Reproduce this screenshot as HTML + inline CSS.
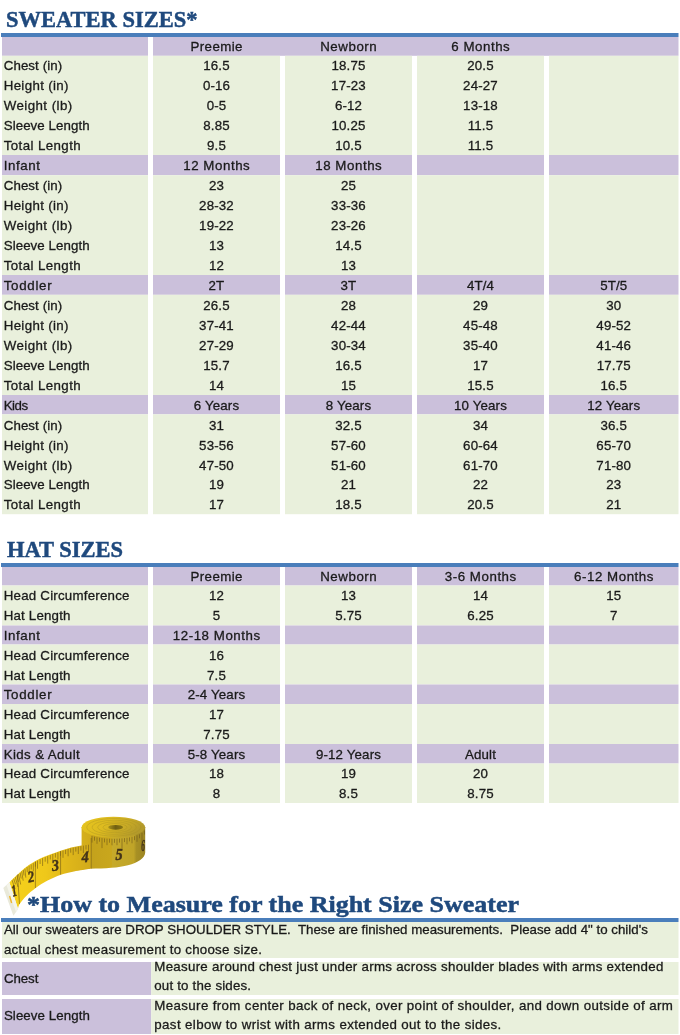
<!DOCTYPE html>
<html><head><meta charset="utf-8"><title>Size Chart</title>
<style>
html,body{margin:0;padding:0;background:#fff}
body{width:680px;height:1035px;position:relative;overflow:hidden;font-family:"Liberation Sans",sans-serif}
.r{position:absolute}
.t{position:absolute;font-size:13.3px;line-height:16px;color:#1a1a1a;white-space:nowrap;letter-spacing:0.15px;-webkit-text-stroke:0.3px #1a1a1a}
.c{text-align:center}
.h1{position:absolute;font-family:"Liberation Serif",serif;font-weight:bold;font-size:24px;line-height:30px;color:#1f497d;white-space:nowrap;transform-origin:0 0;-webkit-text-stroke:0.5px #1f497d}
svg{position:absolute;left:0;top:0}
#txt{position:absolute;left:0;top:0;width:680px;height:1035px;will-change:transform;filter:blur(0.35px)}
</style></head><body>
<svg width="680" height="1035" viewBox="0 0 680 1035" style="position:absolute;left:0;top:0">
<rect class="r" x="1" y="33" width="677.5" height="4" fill="#4a7ebb"/>
<rect class="r" x="2" y="37" width="146" height="18.8" fill="#cbc0db"/>
<rect class="r" x="153" y="37" width="525.5" height="18.8" fill="#cbc0db"/>
<rect class="r" x="2" y="55.8" width="146" height="99.2" fill="#e9f0dc"/>
<rect class="r" x="153" y="55.8" width="127" height="99.2" fill="#e9f0dc"/>
<rect class="r" x="285" y="55.8" width="127" height="99.2" fill="#e9f0dc"/>
<rect class="r" x="417" y="55.8" width="127" height="99.2" fill="#e9f0dc"/>
<rect class="r" x="549" y="55.8" width="129.5" height="99.2" fill="#e9f0dc"/>
<rect class="r" x="2" y="155" width="146" height="20.2" fill="#cbc0db"/>
<rect class="r" x="153" y="155" width="127" height="20.2" fill="#cbc0db"/>
<rect class="r" x="285" y="155" width="127" height="20.2" fill="#cbc0db"/>
<rect class="r" x="417" y="155" width="127" height="20.2" fill="#cbc0db"/>
<rect class="r" x="549" y="155" width="129.5" height="20.2" fill="#cbc0db"/>
<rect class="r" x="2" y="175.2" width="146" height="99.8" fill="#e9f0dc"/>
<rect class="r" x="153" y="175.2" width="127" height="99.8" fill="#e9f0dc"/>
<rect class="r" x="285" y="175.2" width="127" height="99.8" fill="#e9f0dc"/>
<rect class="r" x="417" y="175.2" width="127" height="99.8" fill="#e9f0dc"/>
<rect class="r" x="549" y="175.2" width="129.5" height="99.8" fill="#e9f0dc"/>
<rect class="r" x="2" y="275" width="146" height="19.8" fill="#cbc0db"/>
<rect class="r" x="153" y="275" width="127" height="19.8" fill="#cbc0db"/>
<rect class="r" x="285" y="275" width="127" height="19.8" fill="#cbc0db"/>
<rect class="r" x="417" y="275" width="127" height="19.8" fill="#cbc0db"/>
<rect class="r" x="549" y="275" width="129.5" height="19.8" fill="#cbc0db"/>
<rect class="r" x="2" y="294.8" width="146" height="100.2" fill="#e9f0dc"/>
<rect class="r" x="153" y="294.8" width="127" height="100.2" fill="#e9f0dc"/>
<rect class="r" x="285" y="294.8" width="127" height="100.2" fill="#e9f0dc"/>
<rect class="r" x="417" y="294.8" width="127" height="100.2" fill="#e9f0dc"/>
<rect class="r" x="549" y="294.8" width="129.5" height="100.2" fill="#e9f0dc"/>
<rect class="r" x="2" y="395" width="146" height="19.3" fill="#cbc0db"/>
<rect class="r" x="153" y="395" width="127" height="19.3" fill="#cbc0db"/>
<rect class="r" x="285" y="395" width="127" height="19.3" fill="#cbc0db"/>
<rect class="r" x="417" y="395" width="127" height="19.3" fill="#cbc0db"/>
<rect class="r" x="549" y="395" width="129.5" height="19.3" fill="#cbc0db"/>
<rect class="r" x="2" y="414.3" width="146" height="99.9" fill="#e9f0dc"/>
<rect class="r" x="153" y="414.3" width="127" height="99.9" fill="#e9f0dc"/>
<rect class="r" x="285" y="414.3" width="127" height="99.9" fill="#e9f0dc"/>
<rect class="r" x="417" y="414.3" width="127" height="99.9" fill="#e9f0dc"/>
<rect class="r" x="549" y="414.3" width="129.5" height="99.9" fill="#e9f0dc"/>
<rect class="r" x="1" y="563" width="677.5" height="4" fill="#4a7ebb"/>
<rect class="r" x="2" y="567" width="146" height="18.5" fill="#cbc0db"/>
<rect class="r" x="153" y="567" width="127" height="18.5" fill="#cbc0db"/>
<rect class="r" x="285" y="567" width="127" height="18.5" fill="#cbc0db"/>
<rect class="r" x="417" y="567" width="127" height="18.5" fill="#cbc0db"/>
<rect class="r" x="549" y="567" width="129.5" height="18.5" fill="#cbc0db"/>
<rect class="r" x="2" y="585.5" width="146" height="40.0" fill="#e9f0dc"/>
<rect class="r" x="153" y="585.5" width="127" height="40.0" fill="#e9f0dc"/>
<rect class="r" x="285" y="585.5" width="127" height="40.0" fill="#e9f0dc"/>
<rect class="r" x="417" y="585.5" width="127" height="40.0" fill="#e9f0dc"/>
<rect class="r" x="549" y="585.5" width="129.5" height="40.0" fill="#e9f0dc"/>
<rect class="r" x="2" y="625.5" width="146" height="19.0" fill="#cbc0db"/>
<rect class="r" x="153" y="625.5" width="127" height="19.0" fill="#cbc0db"/>
<rect class="r" x="285" y="625.5" width="127" height="19.0" fill="#cbc0db"/>
<rect class="r" x="417" y="625.5" width="127" height="19.0" fill="#cbc0db"/>
<rect class="r" x="549" y="625.5" width="129.5" height="19.0" fill="#cbc0db"/>
<rect class="r" x="2" y="644.5" width="146" height="40.0" fill="#e9f0dc"/>
<rect class="r" x="153" y="644.5" width="127" height="40.0" fill="#e9f0dc"/>
<rect class="r" x="285" y="644.5" width="127" height="40.0" fill="#e9f0dc"/>
<rect class="r" x="417" y="644.5" width="127" height="40.0" fill="#e9f0dc"/>
<rect class="r" x="549" y="644.5" width="129.5" height="40.0" fill="#e9f0dc"/>
<rect class="r" x="2" y="684.5" width="146" height="19.5" fill="#cbc0db"/>
<rect class="r" x="153" y="684.5" width="127" height="19.5" fill="#cbc0db"/>
<rect class="r" x="285" y="684.5" width="127" height="19.5" fill="#cbc0db"/>
<rect class="r" x="417" y="684.5" width="127" height="19.5" fill="#cbc0db"/>
<rect class="r" x="549" y="684.5" width="129.5" height="19.5" fill="#cbc0db"/>
<rect class="r" x="2" y="704" width="146" height="40" fill="#e9f0dc"/>
<rect class="r" x="153" y="704" width="127" height="40" fill="#e9f0dc"/>
<rect class="r" x="285" y="704" width="127" height="40" fill="#e9f0dc"/>
<rect class="r" x="417" y="704" width="127" height="40" fill="#e9f0dc"/>
<rect class="r" x="549" y="704" width="129.5" height="40" fill="#e9f0dc"/>
<rect class="r" x="2" y="744" width="146" height="19.5" fill="#cbc0db"/>
<rect class="r" x="153" y="744" width="127" height="19.5" fill="#cbc0db"/>
<rect class="r" x="285" y="744" width="127" height="19.5" fill="#cbc0db"/>
<rect class="r" x="417" y="744" width="127" height="19.5" fill="#cbc0db"/>
<rect class="r" x="549" y="744" width="129.5" height="19.5" fill="#cbc0db"/>
<rect class="r" x="2" y="763.5" width="146" height="39.5" fill="#e9f0dc"/>
<rect class="r" x="153" y="763.5" width="127" height="39.5" fill="#e9f0dc"/>
<rect class="r" x="285" y="763.5" width="127" height="39.5" fill="#e9f0dc"/>
<rect class="r" x="417" y="763.5" width="127" height="39.5" fill="#e9f0dc"/>
<rect class="r" x="549" y="763.5" width="129.5" height="39.5" fill="#e9f0dc"/>
<rect class="r" x="1" y="918" width="677.5" height="4" fill="#4a7ebb"/>
<rect class="r" x="2" y="922" width="676.5" height="36" fill="#e9f0dc"/>
<rect class="r" x="2" y="962" width="149.2" height="33" fill="#cbc0db"/>
<rect class="r" x="151.2" y="962" width="527.3" height="33" fill="#e9f0dc"/>
<rect class="r" x="2" y="999" width="149.2" height="35" fill="#cbc0db"/>
<rect class="r" x="151.2" y="999" width="527.3" height="35" fill="#e9f0dc"/>
</svg>
<svg width="170" height="125" viewBox="0 805 170 125" style="position:absolute;left:0;top:805px;will-change:transform">
<defs>
<linearGradient id="gs" x1="0" y1="0" x2="1" y2="0"><stop offset="0" stop-color="#f6d21c"/><stop offset="0.45" stop-color="#efc81a"/><stop offset="0.7" stop-color="#e0b81a"/><stop offset="1" stop-color="#d2ab1a"/></linearGradient>
<linearGradient id="gc" x1="0" y1="0" x2="1" y2="0"><stop offset="0" stop-color="#d6b01b"/><stop offset="0.15" stop-color="#d0aa1a"/><stop offset="0.16" stop-color="#c4a21c"/><stop offset="0.47" stop-color="#c9a71d"/><stop offset="0.48" stop-color="#c6aa2a"/><stop offset="0.82" stop-color="#c0a428"/><stop offset="0.86" stop-color="#a89024"/><stop offset="1" stop-color="#9c8522"/></linearGradient>
<linearGradient id="gt" x1="0" y1="0" x2="1" y2="0.3"><stop offset="0" stop-color="#e8c61e"/><stop offset="0.45" stop-color="#ddbb20"/><stop offset="0.75" stop-color="#c9ab26"/><stop offset="1" stop-color="#b39a2b"/></linearGradient>
<linearGradient id="gh" x1="0" y1="0" x2="1" y2="0"><stop offset="0" stop-color="#a8921c"/><stop offset="0.5" stop-color="#6f5f12"/><stop offset="1" stop-color="#8a7716"/></linearGradient>
</defs>
<path d="M81.6,827 L81.6,869.5 L90,868.7 C105,868.6 119,867.8 128,865.3 C138,862.5 145,858 145.2,852.5 L145.2,827 Z" fill="url(#gc)"/>
<path d="M90,844.0 C89.5,844.0 90.8,843.6 87.3,844.3 C83.8,845.0 74.5,846.7 68.8,848.2 C63.1,849.7 57.8,851.7 52.9,853.5 C48.0,855.3 44.1,856.6 39.7,858.8 C35.3,861.0 30.5,863.8 26.5,866.7 C22.5,869.6 18.8,873.4 15.9,876 C13.0,878.6 10.4,881.4 9.3,882.5 L17.9,909 C18.2,908.1 18.4,906.0 19.8,903.8 C21.2,901.6 23.9,898.4 26.5,895.8 C29.1,893.2 32.2,890.5 35.7,888 C39.2,885.5 43.4,882.8 47.6,880.6 C51.8,878.4 56.4,876.2 60.8,874.7 C65.2,873.2 69.1,872.4 74,871.4 C78.9,870.4 87.3,869.2 90,868.7 Z" fill="url(#gs)"/>
<path d="M3.3,888 L9.3,882.3 L18.1,909 L13.4,915.8 Z" fill="#e9e9da"/>
<path d="M6.5,885.3 L9.3,882.3 L18.1,909 L16,912 Z" fill="#f4f4ea"/>
<path d="M9.6,896 L11.6,903" stroke="#f0b429" stroke-width="1.4" fill="none"/>
<ellipse cx="113.4" cy="827.3" rx="31.8" ry="10.6" fill="url(#gt)"/>
<g fill="none" stroke="#a89022" stroke-width="0.7" opacity="0.55">
<ellipse cx="113.8" cy="827.3" rx="27" ry="8.8"/><ellipse cx="114.2" cy="827.3" rx="22" ry="7.1"/><ellipse cx="114.6" cy="827.3" rx="17" ry="5.4"/><ellipse cx="115" cy="827.3" rx="12" ry="3.8"/>
</g>
<ellipse cx="115.6" cy="827.3" rx="7.4" ry="2.4" fill="url(#gh)"/>
<g stroke="#6b5318" stroke-width="0.7" opacity="0.8">
<line x1="88.5" y1="844.7" x2="88.5" y2="852.1"/><line x1="86.0" y1="845.1" x2="86.0" y2="849.5"/><line x1="83.4" y1="845.6" x2="83.4" y2="853.0"/><line x1="80.9" y1="846.2" x2="80.9" y2="850.6"/><line x1="78.3" y1="846.7" x2="78.3" y2="854.0"/><line x1="75.8" y1="847.2" x2="75.8" y2="851.6"/><line x1="73.2" y1="847.8" x2="73.2" y2="855.1"/><line x1="70.7" y1="848.3" x2="70.7" y2="852.7"/><line x1="68.1" y1="848.9" x2="68.1" y2="856.3"/><line x1="65.6" y1="849.8" x2="65.6" y2="854.1"/><line x1="63.0" y1="850.6" x2="63.0" y2="857.8"/><line x1="60.5" y1="851.5" x2="60.5" y2="855.8"/><line x1="57.9" y1="852.3" x2="57.9" y2="859.6"/><line x1="55.4" y1="853.2" x2="55.4" y2="857.6"/><line x1="52.8" y1="854.0" x2="52.8" y2="861.5"/><line x1="50.3" y1="855.1" x2="50.3" y2="859.5"/><line x1="47.7" y1="856.1" x2="47.7" y2="863.6"/><line x1="45.2" y1="857.1" x2="45.2" y2="861.7"/><line x1="42.6" y1="858.1" x2="42.6" y2="866.0"/><line x1="40.1" y1="859.2" x2="40.1" y2="864.0"/><line x1="37.5" y1="860.6" x2="37.5" y2="868.7"/><line x1="35.4" y1="861.9" x2="35.4" y2="866.7"/><line x1="33.3" y1="863.1" x2="33.3" y2="871.4"/><line x1="31.2" y1="864.4" x2="31.2" y2="869.5"/><line x1="29.1" y1="865.6" x2="29.2" y2="874.2"/><line x1="27.0" y1="866.9" x2="27.3" y2="872.2"/><line x1="24.9" y1="868.6" x2="25.8" y2="877.6"/><line x1="23.3" y1="870.0" x2="24.0" y2="875.5"/><line x1="21.7" y1="871.4" x2="23.2" y2="880.7"/><line x1="20.1" y1="872.8" x2="21.2" y2="878.5"/><line x1="18.5" y1="874.2" x2="20.7" y2="884.5"/><line x1="16.9" y1="875.6" x2="18.5" y2="881.9"/><line x1="15.3" y1="877.1" x2="18.0" y2="887.0"/><line x1="13.7" y1="878.7" x2="15.5" y2="884.3"/><line x1="12.1" y1="880.2" x2="15.1" y2="889.1"/>
<line x1="92.0" y1="836.1" x2="92.0" y2="842.6"/><line x1="94.5" y1="836.7" x2="94.5" y2="840.7"/><line x1="97.0" y1="837.3" x2="97.0" y2="843.8"/><line x1="99.5" y1="837.7" x2="99.5" y2="841.7"/><line x1="102.0" y1="838.1" x2="102.0" y2="848.1"/><line x1="104.5" y1="838.4" x2="104.5" y2="842.4"/><line x1="107.0" y1="838.6" x2="107.0" y2="845.1"/><line x1="109.5" y1="838.7" x2="109.5" y2="842.7"/><line x1="112.0" y1="838.8" x2="112.0" y2="845.3"/><line x1="114.5" y1="838.8" x2="114.5" y2="842.8"/><line x1="117.0" y1="838.7" x2="117.0" y2="845.2"/><line x1="119.5" y1="838.6" x2="119.5" y2="842.6"/><line x1="122.0" y1="838.4" x2="122.0" y2="848.4"/><line x1="124.5" y1="838.1" x2="124.5" y2="842.1"/><line x1="127.0" y1="837.8" x2="127.0" y2="844.3"/><line x1="129.5" y1="837.4" x2="129.5" y2="841.4"/><line x1="132.0" y1="836.8" x2="132.0" y2="843.3"/><line x1="134.5" y1="836.2" x2="134.5" y2="840.2"/><line x1="137.0" y1="835.3" x2="137.0" y2="841.8"/><line x1="139.5" y1="834.3" x2="139.5" y2="838.3"/><line x1="142.0" y1="832.9" x2="142.0" y2="842.9"/><line x1="144.5" y1="830.5" x2="144.5" y2="834.5"/>
<line x1="35.4" y1="861.5" x2="35.4" y2="888"/>
<line x1="60.6" y1="851" x2="60.6" y2="874.7"/>
<line x1="91.2" y1="838" x2="91.2" y2="868.6"/>
<line x1="17.5" y1="874.5" x2="19.5" y2="904"/>
</g>
<g font-family="Liberation Serif, serif" font-weight="bold" font-style="italic" font-size="16" fill="#43331a" stroke="#43331a" stroke-width="0.45" text-anchor="middle">
<text transform="translate(15.4,896) rotate(-14) scale(0.62,1)">1</text>
<text transform="translate(31.9,882) rotate(-10) scale(0.8,1)">2</text>
<text transform="translate(55.8,870.6) rotate(-6) scale(0.9,1)">3</text>
<text transform="translate(85.4,862) rotate(-2) scale(0.9,1)">4</text>
<text transform="translate(119.2,859.6) scale(0.9,1)">5</text>
<text transform="translate(143,850.5) scale(0.45,1)">6</text>
</g>
</svg>
<div id="txt">
<div class="t c" style="left:116.7px;top:38.5px;width:200px;letter-spacing:0.4px">Preemie</div>
<div class="t c" style="left:248.775px;top:38.5px;width:200px;letter-spacing:0.55px">Newborn</div>
<div class="t c" style="left:380.775px;top:38.5px;width:200px;letter-spacing:0.55px">6 Months</div>
<div class="t" style="left:3.7px;top:57.5px;letter-spacing:0.095px">Chest (in)</div>
<div class="t c" style="left:116.5px;top:57.5px;width:200px">16.5</div>
<div class="t c" style="left:248.5px;top:57.5px;width:200px">18.75</div>
<div class="t c" style="left:380.5px;top:57.5px;width:200px">20.5</div>
<div class="t" style="left:3.7px;top:77.5px;letter-spacing:0.341px">Height (in)</div>
<div class="t c" style="left:116.5px;top:77.5px;width:200px">0-16</div>
<div class="t c" style="left:248.5px;top:77.5px;width:200px">17-23</div>
<div class="t c" style="left:380.5px;top:77.5px;width:200px">24-27</div>
<div class="t" style="left:3.7px;top:97.5px;letter-spacing:0.445px">Weight (lb)</div>
<div class="t c" style="left:116.5px;top:97.5px;width:200px">0-5</div>
<div class="t c" style="left:248.5px;top:97.5px;width:200px">6-12</div>
<div class="t c" style="left:380.5px;top:97.5px;width:200px">13-18</div>
<div class="t" style="left:3.7px;top:117.5px;letter-spacing:0.081px">Sleeve Length</div>
<div class="t c" style="left:116.5px;top:117.5px;width:200px">8.85</div>
<div class="t c" style="left:248.5px;top:117.5px;width:200px">10.25</div>
<div class="t c" style="left:380.5px;top:117.5px;width:200px">11.5</div>
<div class="t" style="left:3.7px;top:137.5px;letter-spacing:0.413px">Total Length</div>
<div class="t c" style="left:116.5px;top:137.5px;width:200px">9.5</div>
<div class="t c" style="left:248.5px;top:137.5px;width:200px">10.5</div>
<div class="t c" style="left:380.5px;top:137.5px;width:200px">11.5</div>
<div class="t" style="left:3.7px;top:157.5px;letter-spacing:0.604px">Infant</div>
<div class="t c" style="left:116.775px;top:157.5px;width:200px;letter-spacing:0.55px">12 Months</div>
<div class="t c" style="left:248.775px;top:157.5px;width:200px;letter-spacing:0.55px">18 Months</div>
<div class="t" style="left:3.7px;top:177.5px;letter-spacing:0.095px">Chest (in)</div>
<div class="t c" style="left:116.5px;top:177.5px;width:200px">23</div>
<div class="t c" style="left:248.5px;top:177.5px;width:200px">25</div>
<div class="t" style="left:3.7px;top:197.5px;letter-spacing:0.341px">Height (in)</div>
<div class="t c" style="left:116.5px;top:197.5px;width:200px">28-32</div>
<div class="t c" style="left:248.5px;top:197.5px;width:200px">33-36</div>
<div class="t" style="left:3.7px;top:217.5px;letter-spacing:0.445px">Weight (lb)</div>
<div class="t c" style="left:116.5px;top:217.5px;width:200px">19-22</div>
<div class="t c" style="left:248.5px;top:217.5px;width:200px">23-26</div>
<div class="t" style="left:3.7px;top:237.5px;letter-spacing:0.081px">Sleeve Length</div>
<div class="t c" style="left:116.5px;top:237.5px;width:200px">13</div>
<div class="t c" style="left:248.5px;top:237.5px;width:200px">14.5</div>
<div class="t" style="left:3.7px;top:257.5px;letter-spacing:0.413px">Total Length</div>
<div class="t c" style="left:116.5px;top:257.5px;width:200px">12</div>
<div class="t c" style="left:248.5px;top:257.5px;width:200px">13</div>
<div class="t" style="left:3.7px;top:277.5px;letter-spacing:0.729px">Toddler</div>
<div class="t c" style="left:116.5px;top:277.5px;width:200px">2T</div>
<div class="t c" style="left:248.5px;top:277.5px;width:200px">3T</div>
<div class="t c" style="left:380.5px;top:277.5px;width:200px">4T/4</div>
<div class="t c" style="left:513.75px;top:277.5px;width:200px">5T/5</div>
<div class="t" style="left:3.7px;top:297.5px;letter-spacing:0.095px">Chest (in)</div>
<div class="t c" style="left:116.5px;top:297.5px;width:200px">26.5</div>
<div class="t c" style="left:248.5px;top:297.5px;width:200px">28</div>
<div class="t c" style="left:380.5px;top:297.5px;width:200px">29</div>
<div class="t c" style="left:513.75px;top:297.5px;width:200px">30</div>
<div class="t" style="left:3.7px;top:317.5px;letter-spacing:0.341px">Height (in)</div>
<div class="t c" style="left:116.5px;top:317.5px;width:200px">37-41</div>
<div class="t c" style="left:248.5px;top:317.5px;width:200px">42-44</div>
<div class="t c" style="left:380.5px;top:317.5px;width:200px">45-48</div>
<div class="t c" style="left:513.75px;top:317.5px;width:200px">49-52</div>
<div class="t" style="left:3.7px;top:337.5px;letter-spacing:0.445px">Weight (lb)</div>
<div class="t c" style="left:116.5px;top:337.5px;width:200px">27-29</div>
<div class="t c" style="left:248.5px;top:337.5px;width:200px">30-34</div>
<div class="t c" style="left:380.5px;top:337.5px;width:200px">35-40</div>
<div class="t c" style="left:513.75px;top:337.5px;width:200px">41-46</div>
<div class="t" style="left:3.7px;top:357.5px;letter-spacing:0.081px">Sleeve Length</div>
<div class="t c" style="left:116.5px;top:357.5px;width:200px">15.7</div>
<div class="t c" style="left:248.5px;top:357.5px;width:200px">16.5</div>
<div class="t c" style="left:380.5px;top:357.5px;width:200px">17</div>
<div class="t c" style="left:513.75px;top:357.5px;width:200px">17.75</div>
<div class="t" style="left:3.7px;top:377.5px;letter-spacing:0.413px">Total Length</div>
<div class="t c" style="left:116.5px;top:377.5px;width:200px">14</div>
<div class="t c" style="left:248.5px;top:377.5px;width:200px">15</div>
<div class="t c" style="left:380.5px;top:377.5px;width:200px">15.5</div>
<div class="t c" style="left:513.75px;top:377.5px;width:200px">16.5</div>
<div class="t" style="left:3.7px;top:397.5px;letter-spacing:-0.458px">Kids</div>
<div class="t c" style="left:116.5px;top:397.5px;width:200px">6 Years</div>
<div class="t c" style="left:248.5px;top:397.5px;width:200px">8 Years</div>
<div class="t c" style="left:380.5px;top:397.5px;width:200px">10 Years</div>
<div class="t c" style="left:513.75px;top:397.5px;width:200px">12 Years</div>
<div class="t" style="left:3.7px;top:417.5px;letter-spacing:0.095px">Chest (in)</div>
<div class="t c" style="left:116.5px;top:417.5px;width:200px">31</div>
<div class="t c" style="left:248.5px;top:417.5px;width:200px">32.5</div>
<div class="t c" style="left:380.5px;top:417.5px;width:200px">34</div>
<div class="t c" style="left:513.75px;top:417.5px;width:200px">36.5</div>
<div class="t" style="left:3.7px;top:437.5px;letter-spacing:0.341px">Height (in)</div>
<div class="t c" style="left:116.5px;top:437.5px;width:200px">53-56</div>
<div class="t c" style="left:248.5px;top:437.5px;width:200px">57-60</div>
<div class="t c" style="left:380.5px;top:437.5px;width:200px">60-64</div>
<div class="t c" style="left:513.75px;top:437.5px;width:200px">65-70</div>
<div class="t" style="left:3.7px;top:457.5px;letter-spacing:0.445px">Weight (lb)</div>
<div class="t c" style="left:116.5px;top:457.5px;width:200px">47-50</div>
<div class="t c" style="left:248.5px;top:457.5px;width:200px">51-60</div>
<div class="t c" style="left:380.5px;top:457.5px;width:200px">61-70</div>
<div class="t c" style="left:513.75px;top:457.5px;width:200px">71-80</div>
<div class="t" style="left:3.7px;top:476.5px;letter-spacing:0.081px">Sleeve Length</div>
<div class="t c" style="left:116.5px;top:476.5px;width:200px">19</div>
<div class="t c" style="left:248.5px;top:476.5px;width:200px">21</div>
<div class="t c" style="left:380.5px;top:476.5px;width:200px">22</div>
<div class="t c" style="left:513.75px;top:476.5px;width:200px">23</div>
<div class="t" style="left:3.7px;top:496.5px;letter-spacing:0.413px">Total Length</div>
<div class="t c" style="left:116.5px;top:496.5px;width:200px">17</div>
<div class="t c" style="left:248.5px;top:496.5px;width:200px">18.5</div>
<div class="t c" style="left:380.5px;top:496.5px;width:200px">20.5</div>
<div class="t c" style="left:513.75px;top:496.5px;width:200px">21</div>
<div class="t c" style="left:116.7px;top:568.5px;width:200px;letter-spacing:0.4px">Preemie</div>
<div class="t c" style="left:248.775px;top:568.5px;width:200px;letter-spacing:0.55px">Newborn</div>
<div class="t c" style="left:380.775px;top:568.5px;width:200px;letter-spacing:0.55px">3-6 Months</div>
<div class="t c" style="left:514.025px;top:568.5px;width:200px;letter-spacing:0.55px">6-12 Months</div>
<div class="t" style="left:3.7px;top:587.5px;letter-spacing:0.226px">Head Circumference</div>
<div class="t c" style="left:116.5px;top:587.5px;width:200px">12</div>
<div class="t c" style="left:248.5px;top:587.5px;width:200px">13</div>
<div class="t c" style="left:380.5px;top:587.5px;width:200px">14</div>
<div class="t c" style="left:513.75px;top:587.5px;width:200px">15</div>
<div class="t" style="left:3.7px;top:607.5px;letter-spacing:0.193px">Hat Length</div>
<div class="t c" style="left:116.5px;top:607.5px;width:200px">5</div>
<div class="t c" style="left:248.5px;top:607.5px;width:200px">5.75</div>
<div class="t c" style="left:380.5px;top:607.5px;width:200px">6.25</div>
<div class="t c" style="left:513.75px;top:607.5px;width:200px">7</div>
<div class="t" style="left:3.7px;top:627.5px;letter-spacing:0.604px">Infant</div>
<div class="t c" style="left:116.775px;top:627.5px;width:200px;letter-spacing:0.55px">12-18 Months</div>
<div class="t" style="left:3.7px;top:647.5px;letter-spacing:0.226px">Head Circumference</div>
<div class="t c" style="left:116.5px;top:647.5px;width:200px">16</div>
<div class="t" style="left:3.7px;top:667.5px;letter-spacing:0.193px">Hat Length</div>
<div class="t c" style="left:116.5px;top:667.5px;width:200px">7.5</div>
<div class="t" style="left:3.7px;top:686.5px;letter-spacing:0.729px">Toddler</div>
<div class="t c" style="left:116.5px;top:686.5px;width:200px">2-4 Years</div>
<div class="t" style="left:3.7px;top:706.5px;letter-spacing:0.226px">Head Circumference</div>
<div class="t c" style="left:116.5px;top:706.5px;width:200px">17</div>
<div class="t" style="left:3.7px;top:726.5px;letter-spacing:0.193px">Hat Length</div>
<div class="t c" style="left:116.5px;top:726.5px;width:200px">7.75</div>
<div class="t" style="left:3.7px;top:746.5px;letter-spacing:0.391px">Kids &amp; Adult</div>
<div class="t c" style="left:116.5px;top:746.5px;width:200px">5-8 Years</div>
<div class="t c" style="left:248.5px;top:746.5px;width:200px">9-12 Years</div>
<div class="t c" style="left:380.5px;top:746.5px;width:200px">Adult</div>
<div class="t" style="left:3.7px;top:765.5px;letter-spacing:0.226px">Head Circumference</div>
<div class="t c" style="left:116.5px;top:765.5px;width:200px">18</div>
<div class="t c" style="left:248.5px;top:765.5px;width:200px">19</div>
<div class="t c" style="left:380.5px;top:765.5px;width:200px">20</div>
<div class="t" style="left:3.7px;top:785.5px;letter-spacing:0.193px">Hat Length</div>
<div class="t c" style="left:116.5px;top:785.5px;width:200px">8</div>
<div class="t c" style="left:248.5px;top:785.5px;width:200px">8.5</div>
<div class="t c" style="left:380.5px;top:785.5px;width:200px">8.75</div>
<div class="t" style="left:3.9px;top:921.5px;letter-spacing:0.009px">All our sweaters are DROP SHOULDER STYLE.&nbsp; These are finished measurements.&nbsp; Please add 4" to child's</div>
<div class="t" style="left:3.9px;top:941.5px;letter-spacing:0.248px">actual chest measurement to choose size.</div>
<div class="t" style="left:3.9px;top:970.5px;letter-spacing:-0.062px">Chest</div>
<div class="t" style="left:3.9px;top:1007.5px;letter-spacing:0.081px">Sleeve Length</div>
<div class="t" style="left:154.3px;top:958.5px;letter-spacing:0.285px">Measure around chest just under arms across shoulder blades with arms extended</div>
<div class="t" style="left:154.3px;top:977.5px;letter-spacing:0.179px">out to the sides.</div>
<div class="t" style="left:154.3px;top:997.5px;letter-spacing:0.374px">Measure from center back of neck, over point of shoulder, and down outside of arm</div>
<div class="t" style="left:154.3px;top:1016.5px;letter-spacing:0.383px">past elbow to wrist with arms extended out to the sides.</div>
<div class="h1" style="left:5.5px;top:4.1px;transform:scaleX(0.9373)">SWEATER SIZES*</div><div class="h1" style="left:6.8px;top:534.1px;transform:scaleX(0.9367)">HAT SIZES</div><div class="h1" style="left:27px;top:889.2px;transform:scaleX(1.0828)">*How to Measure for the Right Size Sweater</div>
</div>
</body></html>
